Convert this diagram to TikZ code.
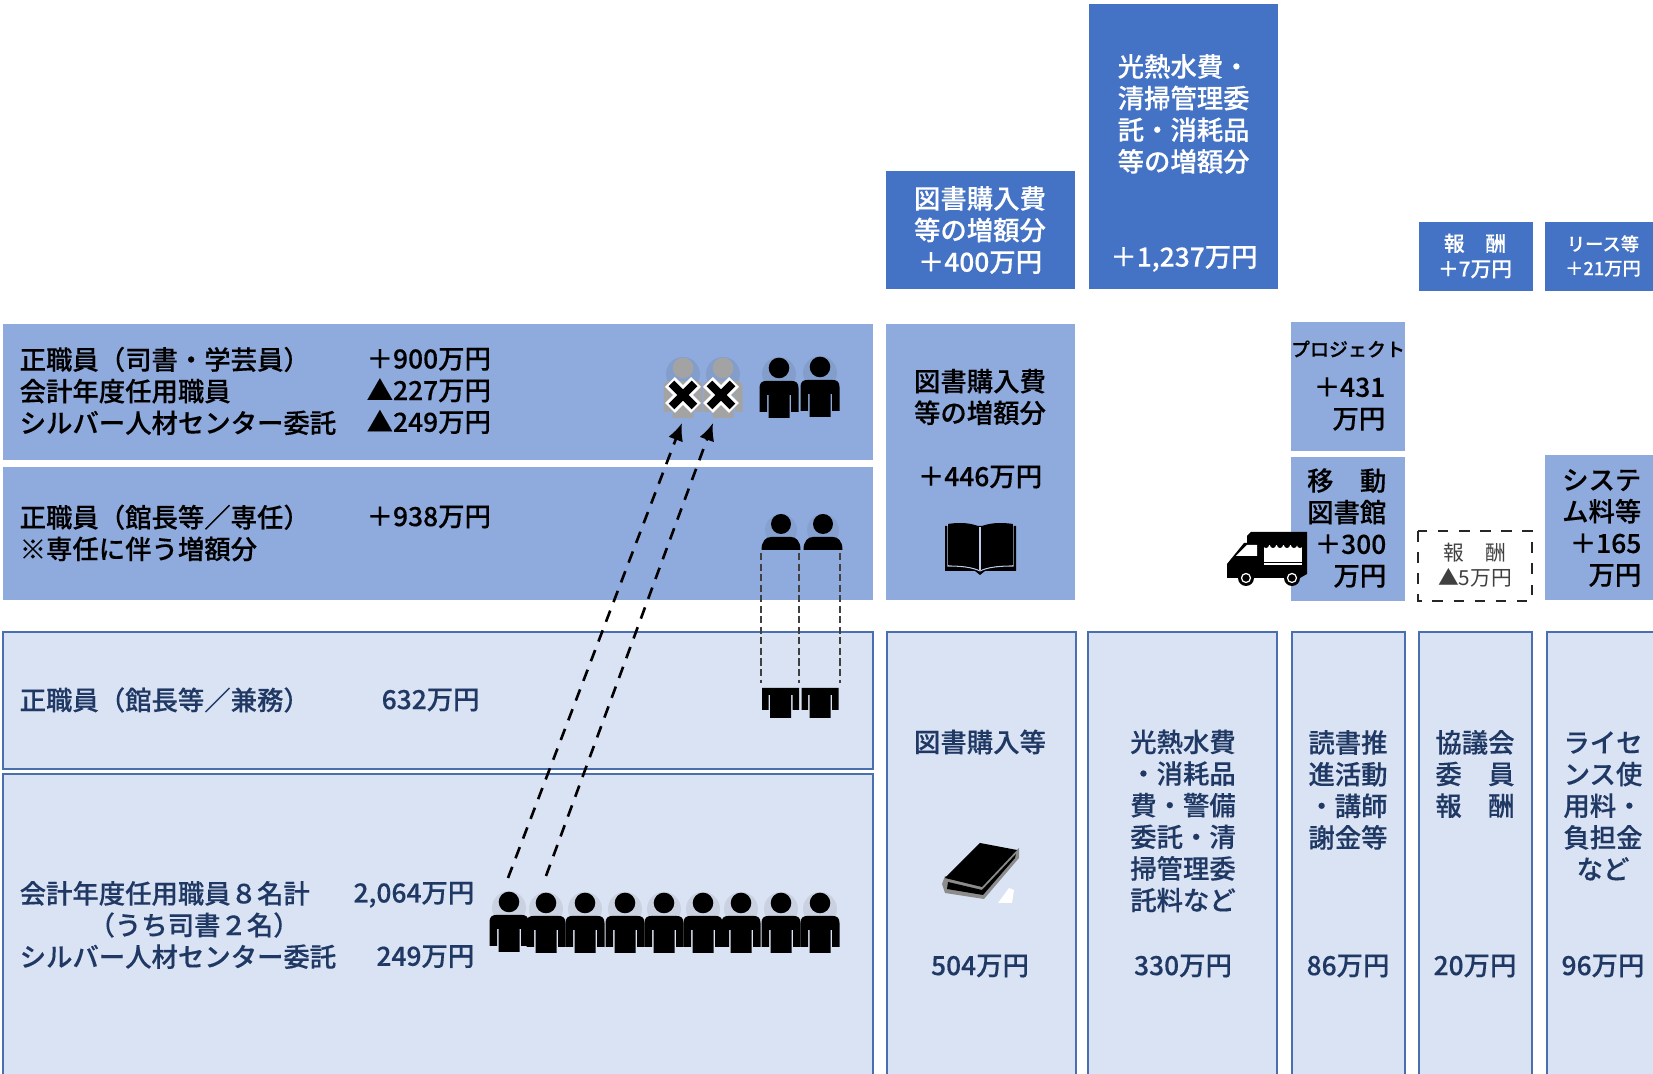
\documentclass[tikz,border=0pt]{standalone}
\usepackage{fontspec}
\setmainfont{Noto Sans CJK JP}[BoldFont={Noto Sans CJK JP Medium},BoldFeatures={FakeBold=0.25}]
\usetikzlibrary{arrows.meta}
\usetikzlibrary{positioning}
\definecolor{topblue}{HTML}{4472C4}
\definecolor{midblue}{HTML}{8FAADC}
\definecolor{paleblue}{HTML}{DAE3F3}
\definecolor{edgeblue}{HTML}{4A6FAE}
\definecolor{navytext}{HTML}{1F3864}
\definecolor{greyman}{HTML}{A3A3A3}
\newcommand{\bodyfont}{\fontsize{7.5}{9}\selectfont\bfseries}
\newcommand{\smallfont}{\fontsize{5.9}{7.2}\selectfont}
\tikzset{
	topbox/.style={fill=topblue},
	midbox/.style={fill=midblue},
	palebox/.style={fill=paleblue,draw=edgeblue,line width=0.35pt},
	toptext/.style={inner sep=0pt,text=white,font=\bodyfont,align=center},
	midtext/.style={inner sep=0pt,text=black,font=\bodyfont,align=left},
	paletext/.style={inner sep=0pt,text=navytext,font=\bodyfont,align=center},
	westtext/.style={anchor=west,align=left},
	easttext/.style={anchor=east,align=right},
	pics/person/.style={code={
		\fill[black,opacity=.07] (0,6) circle (17);
		\fill[#1] (0,0) circle (10.3);
		\fill[#1] (-10.5,50) -- (-10.5,27) -- (-12,27) -- (-12,44) -- (-19.5,44) -- (-19.5,20)
			.. controls (-19.5,15) and (-17,13) .. (-13,13) -- (13,13)
			.. controls (17,13) and (19.5,15) .. (19.5,20) -- (19.5,44) -- (12,44) -- (12,27)
			-- (10.5,27) -- (10.5,50) -- cycle;
	}},
	pics/person/.default=black,
	pics/tophalf/.style={code={
		\fill[black,opacity=.06] (0,6) circle (16);
		\fill (0,0) circle (10);
		\fill (-19.5,26) .. controls (-19.5,17) and (-15,13) .. (-10,13) -- (10,13)
			.. controls (15,13) and (19.5,17) .. (19.5,26) -- cycle;
	}},
	pics/bottomhalf/.style={code={
		\fill (-18.5,0) -- (18.5,0) -- (18.5,22) -- (12,22) -- (12,7) -- (10.5,7) -- (10.5,30)
			-- (-10.5,30) -- (-10.5,7) -- (-12,7) -- (-12,22) -- (-18.5,22) -- cycle;
	}},
	pics/crossmark/.style={code={
		\draw[white,line width=4pt] (-13,-13) -- (13,13) (-13,13) -- (13,-13);
		\draw[black,line width=2.3pt] (-11.5,-11.5) -- (11.5,11.5) (-11.5,11.5) -- (11.5,-11.5);
	}},
	movearrow/.style={dashed,line width=0.75pt,dash pattern=on 3.4pt off 2.6pt,-{Latex[length=5pt,width=4.4pt]}},
	dropline/.style={dashed,line width=0.4pt,dash pattern=on 2pt off 1pt,black!75}
}
\begin{document}
\begin{tikzpicture}[x=0.01cm,y=-0.01cm]
	\useasboundingbox (0,0) rectangle (1653,1074);
	\clip (0,0) rectangle (1653,1074);

	\fill[midbox] (3,324) rectangle (873,460);
	\fill[midbox] (3,467) rectangle (873,600);
	\draw[palebox] (3,632) rectangle (873,769);
	\draw[palebox] (3,774) rectangle (873,1090);

	\fill[topbox] (886,171) rectangle (1075,289);
	\fill[topbox] (1089,4) rectangle (1278,289);
	\fill[topbox] (1419,222) rectangle (1533,291);
	\fill[topbox] (1545,222) rectangle (1670,291);

	\fill[midbox] (886,324) rectangle (1075,600);
	\fill[midbox] (1291,322) rectangle (1405,451);
	\fill[midbox] (1291,457) rectangle (1405,601);
	\fill[midbox] (1545,455) rectangle (1670,600);
	\draw[dashed,line width=0.5pt,black!85] (1418,531) rectangle (1532,601);

	\draw[palebox] (887,632) rectangle (1076,1090);
	\draw[palebox] (1088,632) rectangle (1277,1090);
	\draw[palebox] (1292,632) rectangle (1405,1090);
	\draw[palebox] (1419,632) rectangle (1532,1090);
	\draw[palebox] (1547,632) rectangle (1670,1090);

	\node[midtext,westtext] (kyuzoname) at (19,391) {正職員（司書・学芸員）\\会計年度任用職員\\シルバー人材センター委託};
	\node[midtext,westtext] (kyuzoyen) at (366,391) {＋900万円\\▲227万円\\▲249万円};
	\node[midtext,westtext] (sennmuname) at (19,533) {正職員（館長等／専任）\\※専任に伴う増額分};
	\node[midtext,westtext] (sennmuyen) at (366,517) {＋938万円};
	\node[paletext,westtext] (kenmuname) at (19,700) {正職員（館長等／兼務）};
	\node[paletext,westtext] (kenmuyen) at (381,700) {632万円};
	\node[paletext,westtext] (ninyoname) at (19,925) {会計年度任用職員８名計\\\hspace{19.6pt}（うち司書２名）\\シルバー人材センター委託};
	\node[paletext,easttext] (ninyoyen) at (475,925) {2,064万円\\\\249万円};

	\node[toptext] (tosyotop) at (980,230) {図書購入費\\等の増額分\\＋400万円};
	\node[toptext,westtext] (kounetutop) at (1117,114) {光熱水費・\\清掃管理委\\託・消耗品\\等の増額分};
	\node[toptext] (kounetuyen) at (1184,259) {＋1,237万円};
	\node[toptext,font=\smallfont\bfseries] (housyutop) at (1475,256) {報　酬\\＋7万円};
	\node[toptext,font=\fontsize{5.2}{6.9}\selectfont\bfseries] (leasetop) at (1603,256) {リース等\\＋21万円};

	\node[midtext,align=center] (tosyomid) at (980,397) {図書購入費\\等の増額分};
	\node[midtext] (tosyoyen) at (980,477) {＋446万円};
	\node[midtext,font=\fontsize{5.4}{6}\selectfont\bfseries] (projname) at (1348,349) {プロジェクト};
	\node[midtext,easttext] (projyen) at (1386,404) {＋431\\万円};
	\node[midtext,easttext] (idouyen) at (1387,528) {移　動\\図書館\\＋300\\万円};
	\node[midtext,easttext] (sysyen) at (1642,528) {システ\\ム料等\\＋165\\万円};
	\node[inner sep=0pt,font=\smallfont,text=black!75,align=center] (housyudown) at (1475,565) {報　酬\\▲5万円};

	\node[paletext] (tosyoname) at (980,742) {図書購入等};
	\node[paletext] (tosyobase) at (980,966) {504万円};
	\node[paletext] (kounetuname) at (1183,821) {光熱水費\\・消耗品\\費・警備\\委託・清\\掃管理委\\託料など};
	\node[paletext] (kounetubase) at (1183,966) {330万円};
	\node[paletext] (dokusyoname) at (1348,790) {読書推\\進活動\\・講師\\謝金等};
	\node[paletext] (dokusyobase) at (1348,966) {86万円};
	\node[paletext] (kyoginame) at (1475,774) {協議会\\委　員\\報　酬};
	\node[paletext] (kyogibase) at (1475,966) {20万円};
	\node[paletext] (licensename) at (1603,806) {ライセ\\ンス使\\用料・\\負担金\\など};
	\node[paletext] (licensebase) at (1603,966) {96万円};

	\pic at (683,368) {person=greyman};
	\pic at (723,368) {person=greyman};
	\pic at (683,395) {crossmark};
	\pic at (721,395) {crossmark};
	\pic at (779,368) {person};
	\pic at (820,367) {person};

	\pic at (781,524) {tophalf};
	\pic at (823,524) {tophalf};
	\pic at (780.5,688) {bottomhalf};
	\pic at (820,688) {bottomhalf};

	\pic at (509,902) {person};
	\pic at (546,903) {person};
	\pic at (585,903) {person};
	\pic at (625,903) {person};
	\pic at (664,903) {person};
	\pic at (703,903) {person};
	\pic at (741,903) {person};
	\pic at (781,903) {person};
	\pic at (820,903) {person};

	\coordinate (fromone) at (508,878);
	\coordinate (fromtwo) at (546,876);
	\coordinate (toone) at (682,423);
	\coordinate (totwo) at (713,423);
	\draw[movearrow] (fromone) -- (toone);
	\draw[movearrow] (fromtwo) -- (totwo);

	\coordinate (dropaup) at (761,553);
	\coordinate (dropadown) at (761,683);
	\coordinate (dropbup) at (799,553);
	\coordinate (dropbdown) at (799,683);
	\coordinate (dropcup) at (840,553);
	\coordinate (dropcdown) at (840,683);
	\draw[dropline] (dropaup) -- (dropadown);
	\draw[dropline] (dropbup) -- (dropbdown);
	\draw[dropline] (dropcup) -- (dropcdown);

	\fill (1227,577) -- (1227,564) -- (1244,543) -- (1247,543) -- (1247,536) -- (1251,532) -- (1307,532) -- (1307,574) -- (1300,578) -- (1227,578) -- cycle;
	\fill[white] (1236,556) -- (1247,545) -- (1257,545) -- (1257,556) -- cycle;
	\fill[white] (1264,545) rectangle (1302,562);
	\foreach \bump in {1266,1273,1280,1287,1294,1300}
		\fill (\bump,545) circle (3);
	\draw[white,line width=0.3pt] (1264,564) -- (1302,564);
	\fill (1246,578) circle (8);
	\fill (1292,578) circle (8);
	\draw[white,line width=0.35pt] (1246,578) circle (4.5);
	\draw[white,line width=0.35pt] (1292,578) circle (4.5);

	\fill (945,526) -- (945,571) -- (975,571) -- (980,575) -- (985,571) -- (1016,571) -- (1016,526) -- cycle;
	\draw[midblue!60!white,line width=0.3pt] (948,524) -- (948,566) .. controls (960,566) and (972,567) .. (980,571) .. controls (988,567) and (1000,566) .. (1013,566) -- (1013,524);
	\fill (948,524) .. controls (960,522) and (972,523) .. (980,527) .. controls (988,523) and (1000,522) .. (1013,524) -- (1013,565) .. controls (1000,565) and (988,566) .. (980,570) .. controls (972,566) and (960,565) .. (948,565) -- cycle;
	\draw[midblue!60!white,line width=0.3pt] (980,527) -- (980,570);

	\fill[black!45] (945,876) -- (982,885) -- (1019,848) -- (1019,858) -- (984,899) -- (945,893) -- (942,884) -- cycle;
	\fill (980,843) -- (1017,850) -- (982,887) -- (945,878) -- cycle;
	\fill (948,882) -- (982,890) -- (1016,854) -- (1015,858) -- (983,895) -- (947,889) -- cycle;
	\fill[white] (998,903) -- (1009,888) -- (1014,890) -- (1012,903) -- cycle;
\end{tikzpicture}
\end{document}
